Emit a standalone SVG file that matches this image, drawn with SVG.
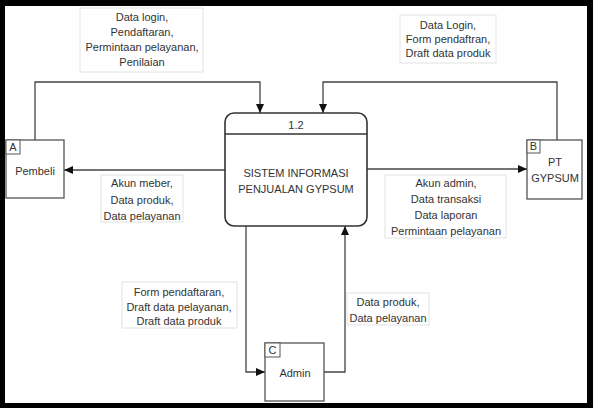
<svg xmlns="http://www.w3.org/2000/svg" width="593" height="408" viewBox="0 0 593 408">
<style>
text{font-family:"Liberation Sans",Arial,sans-serif;font-size:11px;fill:#333;text-anchor:middle}
.lbl{fill:#fff;stroke:#e2e2e2;stroke-width:1}
.ent{fill:#fff;stroke:#555;stroke-width:1.3}
.tag{fill:#fff;stroke:#555;stroke-width:1}
.ln{fill:none;stroke:#444;stroke-width:1.3}
</style>
<defs>
<marker id="ah" markerUnits="userSpaceOnUse" markerWidth="10" markerHeight="9" refX="9" refY="4" orient="auto">
<path d="M0,0 L9,4 L0,8 z" fill="#111"/>
</marker>
</defs>
<rect x="0" y="0" width="593" height="408" fill="#000"/>
<rect x="5" y="6" width="582" height="397" fill="#fff"/>

<g id="labels">
<rect class="lbl" x="80" y="8" width="123" height="64"/>
<text x="142" y="21">Data login,</text>
<text x="142" y="36">Pendaftaran,</text>
<text x="142" y="51">Permintaan pelayanan,</text>
<text x="142" y="66">Penilaian</text>
<rect class="lbl" x="400" y="15" width="96" height="48"/>
<text x="448" y="29">Data Login,</text>
<text x="448" y="43">Form pendaftran,</text>
<text x="448" y="57">Draft data produk</text>
<rect class="lbl" x="101" y="175" width="82" height="47"/>
<text x="142" y="187">Akun meber,</text>
<text x="142" y="204">Data produk,</text>
<text x="142" y="220">Data pelayanan</text>
<rect class="lbl" x="385" y="175" width="121" height="63"/>
<text x="446" y="187">Akun admin,</text>
<text x="446" y="203">Data transaksi</text>
<text x="446" y="219">Data laporan</text>
<text x="446" y="235">Permintaan pelayanan</text>
<rect class="lbl" x="122" y="282" width="115" height="46"/>
<text x="179" y="296">Form pendaftaran,</text>
<text x="179" y="311">Draft data pelayanan,</text>
<text x="179" y="325">Draft data produk</text>
<rect class="lbl" x="347" y="293" width="82" height="32"/>
<text x="388" y="306">Data produk,</text>
<text x="388" y="322">Data pelayanan</text>
</g>

<g id="connectors">
<path class="ln" d="M35,140 V82 H260 V113" marker-end="url(#ah)"/>
<path class="ln" d="M557,140 V82 H323 V113" marker-end="url(#ah)"/>
<path class="ln" d="M225,170 H64" marker-end="url(#ah)"/>
<path class="ln" d="M367,169 H527" marker-end="url(#ah)"/>
<path class="ln" d="M246,226 V372 H265" marker-end="url(#ah)"/>
<path class="ln" d="M324,372 H345 V226" marker-end="url(#ah)"/>
</g>

<g id="process">
<rect x="225" y="113" width="142" height="113" rx="9" fill="#fff" stroke="#333" stroke-width="1.6"/>
<line x1="225" y1="134" x2="367" y2="134" stroke="#333" stroke-width="1.6"/>
<text x="296" y="129">1.2</text>
<text x="296" y="177">SISTEM INFORMASI</text>
<text x="296" y="193">PENJUALAN GYPSUM</text>
</g>

<g id="pembeli">
<rect class="ent" x="6" y="140" width="58" height="58"/>
<rect class="tag" x="6" y="140" width="14" height="14"/>
<text x="13" y="151">A</text>
<text x="35" y="175">Pembeli</text>
</g>

<g id="pt-gypsum">
<rect class="ent" x="527" y="140" width="55" height="59"/>
<rect class="tag" x="527" y="140" width="13" height="13"/>
<text x="533.5" y="150">B</text>
<text x="555" y="166">PT</text>
<text x="555" y="182">GYPSUM</text>
</g>

<g id="admin">
<rect class="ent" x="265" y="343" width="59" height="58"/>
<rect class="tag" x="265" y="343" width="15" height="14"/>
<text x="272.5" y="354">C</text>
<text x="295" y="377">Admin</text>
</g>
</svg>
